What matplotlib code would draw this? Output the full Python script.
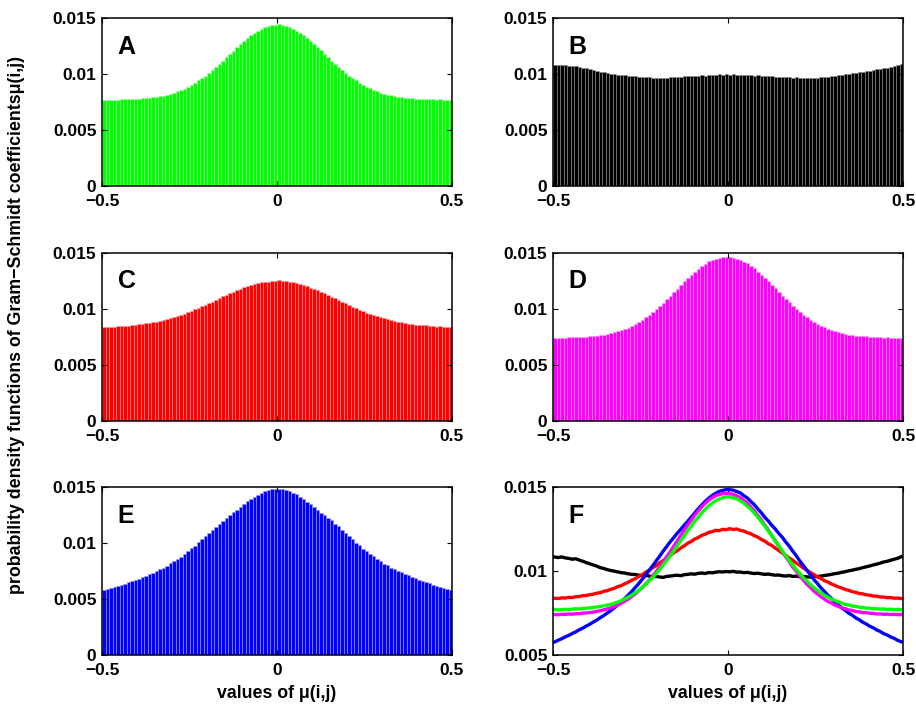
import matplotlib
matplotlib.use('Agg')
import matplotlib.pyplot as plt
import numpy as np

plt.rcParams['font.family'] = ['Liberation Sans', 'DejaVu Sans']
plt.rcParams['font.weight'] = 'bold'

# histogram values, 100 bins over [-0.5, 0.5]
green_A = [
    0.00771, 0.00768, 0.00770, 0.00772, 0.00770, 0.00773, 0.00775, 0.00774, 0.00777, 0.00778,
    0.00781, 0.00783, 0.00786, 0.00788, 0.00793, 0.00797, 0.00801, 0.00808, 0.00815, 0.00823,
    0.00833, 0.00845, 0.00856, 0.00870, 0.00885, 0.00903, 0.00920, 0.00942, 0.00961, 0.00986,
    0.01010, 0.01037, 0.01062, 0.01092, 0.01119, 0.01150, 0.01180, 0.01208, 0.01240, 0.01266,
    0.01296, 0.01320, 0.01347, 0.01367, 0.01388, 0.01403, 0.01419, 0.01428, 0.01437, 0.01441,
    0.01442, 0.01435, 0.01430, 0.01417, 0.01405, 0.01386, 0.01369, 0.01345, 0.01322, 0.01294,
    0.01268, 0.01238, 0.01210, 0.01178, 0.01151, 0.01119, 0.01092, 0.01062, 0.01037, 0.01009,
    0.00986, 0.00961, 0.00942, 0.00920, 0.00903, 0.00885, 0.00871, 0.00856, 0.00846, 0.00833,
    0.00825, 0.00815, 0.00810, 0.00801, 0.00798, 0.00791, 0.00789, 0.00784, 0.00783, 0.00779,
    0.00779, 0.00775, 0.00776, 0.00773, 0.00774, 0.00771, 0.00773, 0.00770, 0.00772, 0.00770,
]

black_B = [
    0.01083, 0.01080, 0.01084, 0.01078, 0.01075, 0.01070, 0.01073, 0.01065, 0.01058, 0.01050,
    0.01043, 0.01036, 0.01029, 0.01020, 0.01015, 0.01008, 0.01003, 0.00999, 0.00995, 0.00990,
    0.00988, 0.00983, 0.00980, 0.00979, 0.00975, 0.00973, 0.00974, 0.00970, 0.00966, 0.00968,
    0.00964, 0.00962, 0.00968, 0.00970, 0.00973, 0.00975, 0.00972, 0.00978, 0.00980, 0.00983,
    0.00981, 0.00986, 0.00988, 0.00985, 0.00991, 0.00989, 0.00993, 0.00996, 0.00994, 0.00997,
    0.00995, 0.00998, 0.00993, 0.00994, 0.00990, 0.00992, 0.00988, 0.00985, 0.00987, 0.00983,
    0.00980, 0.00982, 0.00978, 0.00975, 0.00976, 0.00972, 0.00970, 0.00973, 0.00968, 0.00969,
    0.00966, 0.00968, 0.00965, 0.00964, 0.00967, 0.00966, 0.00970, 0.00973, 0.00976, 0.00980,
    0.00984, 0.00987, 0.00992, 0.00996, 0.01001, 0.01005, 0.01010, 0.01014, 0.01020, 0.01025,
    0.01030, 0.01036, 0.01041, 0.01047, 0.01054, 0.01058, 0.01064, 0.01070, 0.01076, 0.01085,
]

red_C = [
    0.00838, 0.00836, 0.00840, 0.00839, 0.00843, 0.00842, 0.00847, 0.00848, 0.00853, 0.00854,
    0.00859, 0.00862, 0.00868, 0.00871, 0.00879, 0.00883, 0.00891, 0.00897, 0.00907, 0.00913,
    0.00924, 0.00933, 0.00945, 0.00954, 0.00968, 0.00978, 0.00993, 0.01004, 0.01020, 0.01032,
    0.01049, 0.01062, 0.01079, 0.01092, 0.01109, 0.01121, 0.01137, 0.01150, 0.01165, 0.01176,
    0.01190, 0.01199, 0.01212, 0.01219, 0.01230, 0.01234, 0.01242, 0.01240, 0.01248, 0.01246,
    0.01252, 0.01247, 0.01250, 0.01242, 0.01238, 0.01228, 0.01222, 0.01210, 0.01202, 0.01188,
    0.01178, 0.01163, 0.01152, 0.01136, 0.01123, 0.01107, 0.01094, 0.01077, 0.01064, 0.01047,
    0.01034, 0.01018, 0.01006, 0.00991, 0.00980, 0.00966, 0.00956, 0.00943, 0.00935, 0.00923,
    0.00915, 0.00905, 0.00899, 0.00890, 0.00885, 0.00877, 0.00873, 0.00866, 0.00864, 0.00858,
    0.00856, 0.00851, 0.00850, 0.00845, 0.00845, 0.00841, 0.00842, 0.00838, 0.00839, 0.00836,
]

magenta_D = [
    0.00741, 0.00740, 0.00742, 0.00742, 0.00744, 0.00743, 0.00746, 0.00746, 0.00749, 0.00750,
    0.00753, 0.00755, 0.00760, 0.00763, 0.00769, 0.00774, 0.00781, 0.00788, 0.00798, 0.00808,
    0.00820, 0.00832, 0.00848, 0.00863, 0.00882, 0.00901, 0.00923, 0.00945, 0.00971, 0.00997,
    0.01025, 0.01054, 0.01085, 0.01115, 0.01148, 0.01179, 0.01212, 0.01243, 0.01274, 0.01303,
    0.01332, 0.01357, 0.01382, 0.01402, 0.01422, 0.01436, 0.01448, 0.01455, 0.01460, 0.01461,
    0.01460, 0.01456, 0.01447, 0.01438, 0.01421, 0.01404, 0.01381, 0.01359, 0.01331, 0.01305,
    0.01273, 0.01245, 0.01211, 0.01181, 0.01147, 0.01117, 0.01084, 0.01056, 0.01024, 0.00999,
    0.00970, 0.00947, 0.00922, 0.00903, 0.00881, 0.00865, 0.00847, 0.00834, 0.00819, 0.00810,
    0.00797, 0.00790, 0.00780, 0.00776, 0.00768, 0.00765, 0.00759, 0.00757, 0.00752, 0.00752,
    0.00748, 0.00748, 0.00744, 0.00745, 0.00742, 0.00743, 0.00741, 0.00742, 0.00740, 0.00741,
]

blue_E = [
    0.00578, 0.00588, 0.00597, 0.00608, 0.00617, 0.00628, 0.00638, 0.00650, 0.00660, 0.00672,
    0.00683, 0.00696, 0.00708, 0.00722, 0.00735, 0.00750, 0.00764, 0.00781, 0.00798, 0.00817,
    0.00836, 0.00857, 0.00878, 0.00902, 0.00925, 0.00951, 0.00977, 0.01005, 0.01032, 0.01061,
    0.01089, 0.01119, 0.01146, 0.01174, 0.01199, 0.01225, 0.01248, 0.01273, 0.01296, 0.01321,
    0.01345, 0.01371, 0.01393, 0.01415, 0.01433, 0.01450, 0.01463, 0.01474, 0.01480, 0.01485,
    0.01484, 0.01481, 0.01473, 0.01465, 0.01449, 0.01435, 0.01414, 0.01395, 0.01370, 0.01347,
    0.01320, 0.01298, 0.01272, 0.01250, 0.01224, 0.01201, 0.01173, 0.01148, 0.01118, 0.01091,
    0.01060, 0.01034, 0.01004, 0.00979, 0.00950, 0.00927, 0.00901, 0.00880, 0.00856, 0.00838,
    0.00816, 0.00800, 0.00780, 0.00766, 0.00749, 0.00737, 0.00721, 0.00710, 0.00695, 0.00685,
    0.00671, 0.00662, 0.00649, 0.00640, 0.00627, 0.00619, 0.00607, 0.00599, 0.00587, 0.00579,
]

x_ticks = [-0.5, 0, 0.5]
x_tick_labels = ['\u22120.5', '0', '0.5']
y_ticks = [0, 0.005, 0.01, 0.015]
y_tick_labels = ['0', '0.005', '0.01', '0.015']
f_ticks = [0.005, 0.01, 0.015]
f_tick_labels = ['0.005', '0.01', '0.015']

centers = np.linspace(-0.495, 0.495, 100)

fig = plt.figure(figsize=(9.16, 7.04), dpi=100)

# axes positions in figure fractions
left_x, right_x, w = 102 / 916, 553 / 916, 350 / 916
rows_y = [1 - 186 / 704, 1 - 420.7 / 704, 1 - 655 / 704]
h = 168 / 704


def style_axes(ax):
    ax.set_xlim(-0.5, 0.5)
    ax.set_xticks(x_ticks)
    ax.set_xticklabels(x_tick_labels)
    ax.tick_params(direction='in', length=3.5, width=0.8, top=True, right=True,
                   labelsize=12.5)
    ax.tick_params(axis='x', pad=6)
    ax.tick_params(axis='y', pad=4)
    for lab in ax.get_xticklabels() + ax.get_yticklabels():
        lab.set_fontweight('bold')
    for sp in ax.spines.values():
        sp.set_linewidth(1.1)


panels = [
    (left_x, rows_y[0], green_A, '#00ff00', '#a0ffa0', 'A'),
    (right_x, rows_y[0], black_B, '#000000', '#909090', 'B'),
    (left_x, rows_y[1], red_C, '#ff0000', '#ff9a9a', 'C'),
    (right_x, rows_y[1], magenta_D, '#ff00ff', '#ffa0ff', 'D'),
    (left_x, rows_y[2], blue_E, '#0000ff', '#9a9aff', 'E'),
]

for x0, y0, vals, col, edge, letter in panels:
    ax = fig.add_axes([x0, y0, w, h])
    ax.bar(centers, vals, width=0.01, color=col, edgecolor=edge, linewidth=0.4)
    ax.set_ylim(0, 0.015)
    ax.set_yticks(y_ticks)
    ax.set_yticklabels(y_tick_labels)
    style_axes(ax)
    ax.text(0.045, 0.83, letter, transform=ax.transAxes, fontsize=18,
            fontweight='bold', va='center', ha='left')

# panel F: all distributions as lines
axf = fig.add_axes([right_x, rows_y[2], w, h])
axf.plot(centers, black_B, color='#000000', lw=2.4)
axf.plot(centers, red_C, color='#ff0000', lw=2.4)
axf.plot(centers, blue_E, color='#0000ff', lw=2.4)
axf.plot(centers, magenta_D, color='#ff00ff', lw=2.4)
axf.plot(centers, green_A, color='#00ff00', lw=2.4)
axf.set_ylim(0.005, 0.015)
axf.set_yticks(f_ticks)
axf.set_yticklabels(f_tick_labels)
style_axes(axf)
axf.text(0.045, 0.83, 'F', transform=axf.transAxes, fontsize=18,
         fontweight='bold', va='center', ha='left')

fig.text(277 / 916, 1 - 693 / 704, 'values of \u03bc(i,j)', ha='center', va='center',
         fontsize=12.8, fontweight='bold')
fig.text(728 / 916, 1 - 693 / 704, 'values of \u03bc(i,j)', ha='center', va='center',
         fontsize=12.8, fontweight='bold')
fig.text(17 / 916, 0.538, 'probability density functions of Gram\u2212Schmidt coefficients\u03bc(i,j)',
         rotation=90, ha='center', va='center', fontsize=12.8, fontweight='bold')

fig.savefig('out.png', dpi=100)
